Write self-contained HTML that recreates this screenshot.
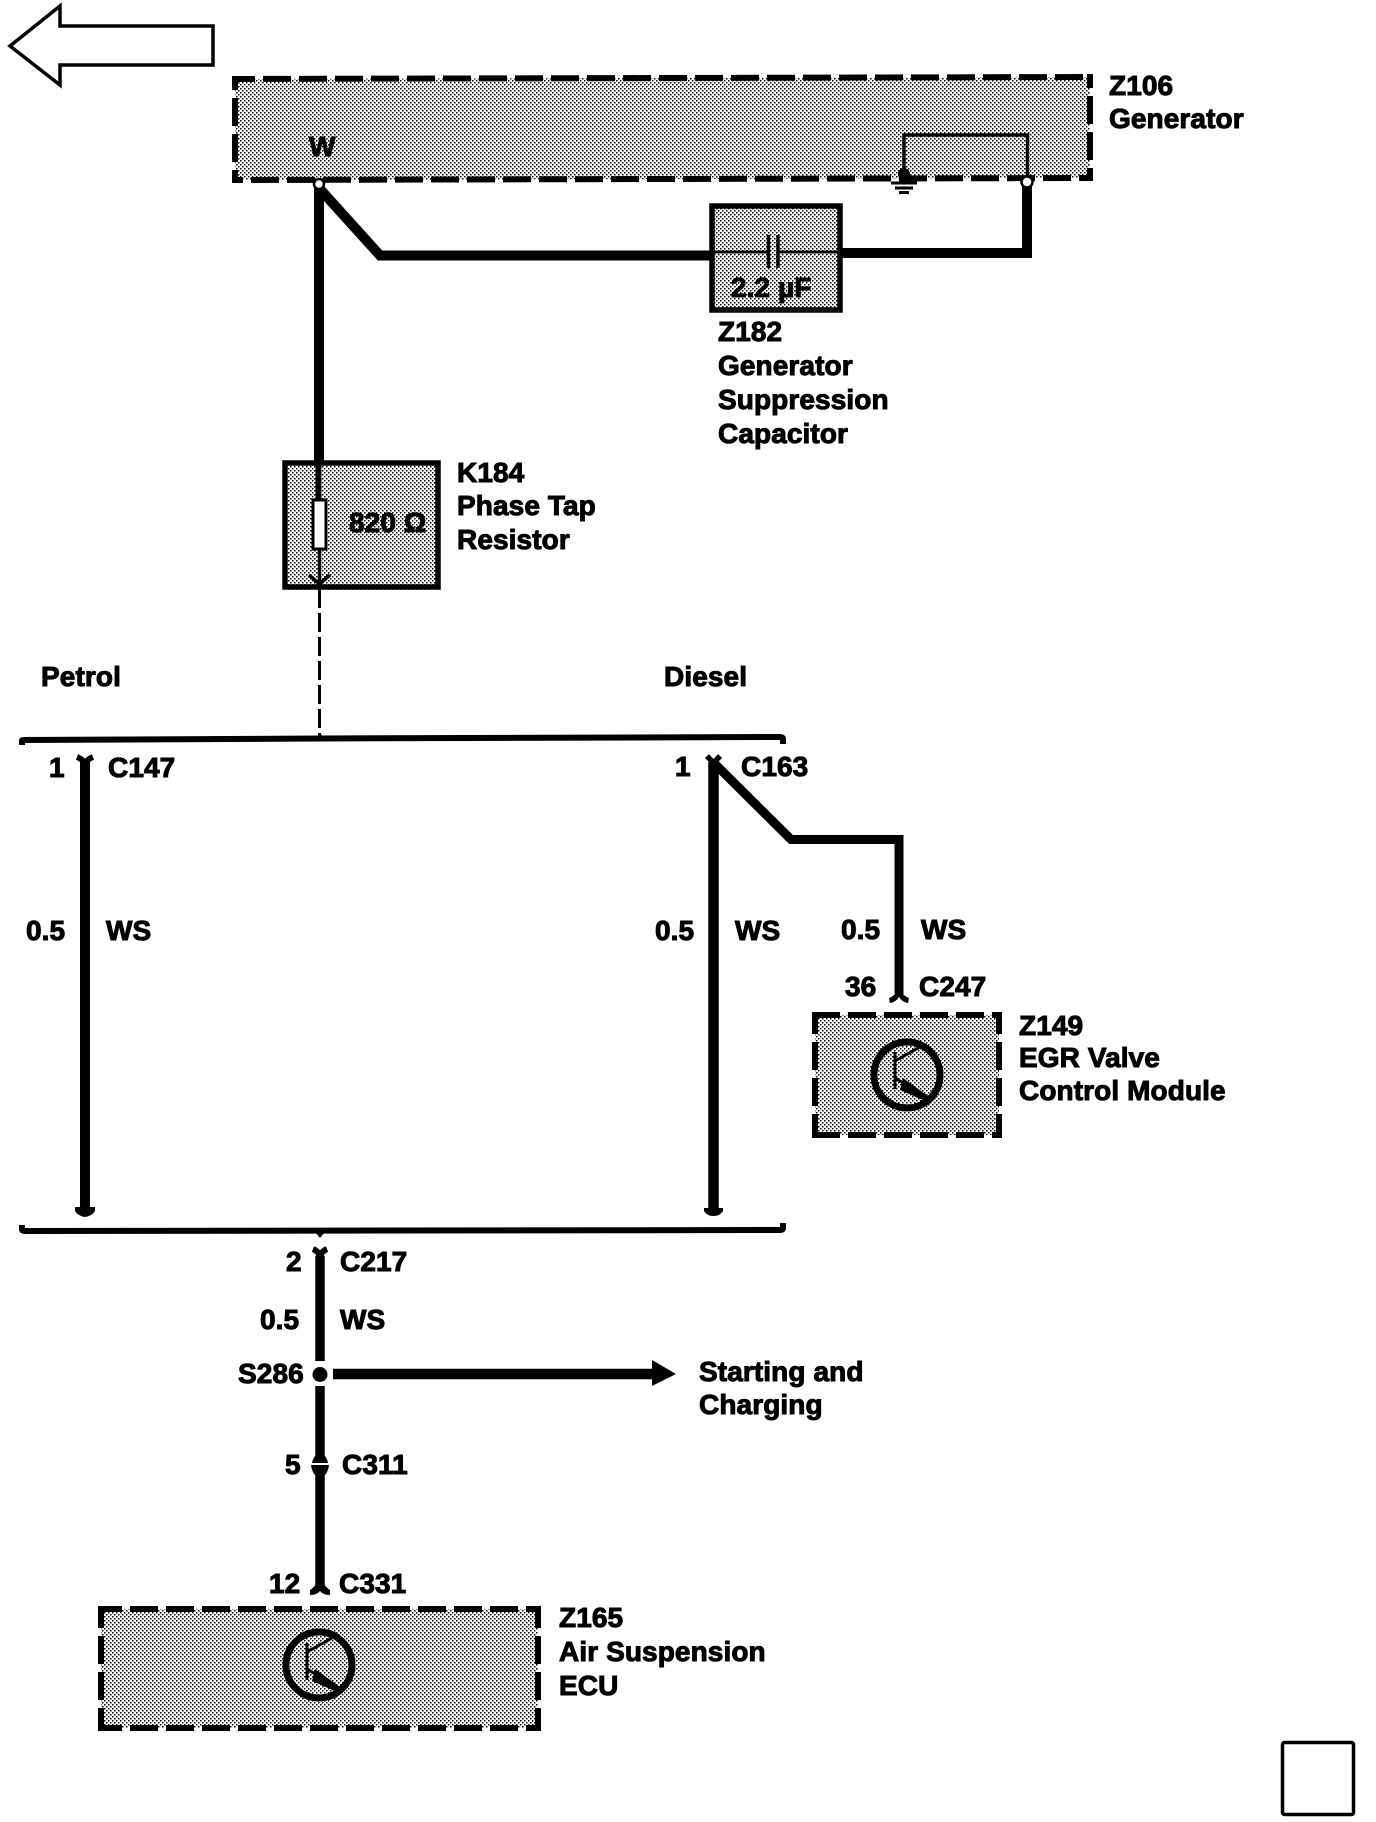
<!DOCTYPE html>
<html lang="en">
<head>
<meta charset="utf-8">
<title>Generator circuit diagram</title>
<style>
html,body{margin:0;padding:0;background:#fff;}
svg{display:block;}
text{font-family:"Liberation Sans",Arial,sans-serif;font-weight:700;font-size:28px;letter-spacing:.1px;fill:#000;stroke:#000;stroke-width:1px;}
.w{fill:none;stroke:#000;stroke-linejoin:miter;stroke-linecap:butt;}
.f{fill:#000;stroke:none;}
.d{fill:none;stroke:#000;stroke-width:6;stroke-dasharray:28 8;}
</style>
</head>
<body>
<svg xmlns="http://www.w3.org/2000/svg" width="1376" height="1822" viewBox="0 0 1376 1822">
<defs>
<pattern id="dots" width="4" height="4" patternUnits="userSpaceOnUse">
<rect x="0" y="0" width="1.5" height="1.5" fill="#000"/>
<rect x="2" y="2" width="1.5" height="1.5" fill="#000"/>
</pattern>
</defs>
<rect width="1376" height="1822" fill="#fff"/>

<!-- back arrow -->
<path d="M10 46 L60 6 V26 H213 V65 H60 V85 Z" fill="#fff" stroke="#000" stroke-width="3.500"/>

<!-- Z106 -->
<path d="M235 79 L1090 77 V178 L235 180 Z" fill="url(#dots)"/>
<path class="d" d="M235 79 L1090 77" stroke-dashoffset="8"/>
<path class="d" d="M235 180 L1090 178" stroke-dashoffset="20"/>
<path class="d" d="M235 76 V183" stroke-dashoffset="14"/>
<path class="d" d="M1090 74 V181" stroke-dashoffset="14"/>
<text x="1109" y="95">Z106</text>
<text x="1109" y="128">Generator</text>
<text x="309" y="156">W</text>

<!-- internal ground loop -->
<path class="w" stroke-width="3.500" d="M904 176 V135 H1027.500 V178"/>
<circle cx="904" cy="174" r="6" fill="#000"/>
<path class="w" stroke-width="3" d="M891 183H917M895 188H913M899 192.500H909"/>

<!-- generator wires -->
<path class="w" stroke-width="10" d="M319 186 V463"/>
<path class="w" stroke-width="10" d="M319 188 L380 255.500 H712"/>
<path class="w" stroke-width="10" d="M840 253 H1027 V184"/>
<circle cx="319" cy="184" r="5" fill="#fff" stroke="#000" stroke-width="2.500"/>
<circle cx="1027" cy="182" r="5.500" fill="#fff" stroke="#000" stroke-width="2.500"/>

<!-- Z182 -->
<rect x="712" y="206" width="128" height="104" fill="#fff"/>
<rect x="712" y="206" width="128" height="104" fill="url(#dots)" stroke="#000" stroke-width="5.500"/>
<path class="w" stroke-width="3" d="M712 252 H767 M779 252 H840"/>
<path class="w" stroke-width="3.500" d="M768.500 235 V268 M778 235 V268"/>
<text x="731" y="297">2.2 µF</text>
<text x="718" y="341">Z182</text>
<text x="718" y="375">Generator</text>
<text x="718" y="409">Suppression</text>
<text x="718" y="443">Capacitor</text>

<!-- K184 -->
<rect x="285" y="463" width="153" height="124" fill="url(#dots)" stroke="#000" stroke-width="5.500"/>
<path class="w" stroke-width="6" d="M318.500 462 V500"/>
<rect x="313" y="500" width="13" height="49" fill="#fff" stroke="#000" stroke-width="3"/>
<path class="w" stroke-width="3.500" d="M319.500 549 V587"/>
<path class="w" stroke-width="3.500" d="M309 575 L319.500 584 L330 575"/>
<text x="349" y="532">820 Ω</text>
<text x="457" y="482">K184</text>
<text x="457" y="515">Phase Tap</text>
<text x="457" y="549">Resistor</text>

<!-- dashed link -->
<path class="w" stroke-width="3" stroke-dasharray="19 5" d="M319.500 589 V738"/>

<!-- variant labels -->
<text x="41" y="686">Petrol</text>
<text x="664" y="686">Diesel</text>

<!-- upper bus -->
<path class="w" stroke-width="6" d="M22 745 V740.500 Q22 740 24 740 L320 738.500 L780 737 Q783 737 783 739 V744"/>
<path class="f" d="M316 738 L320 733 L324 738 Z"/>

<!-- lower bus -->
<path class="w" stroke-width="6" d="M22 1225 V1229 Q22 1231 25 1231 L780 1230 Q783 1230 783 1228 V1223"/>
<path class="f" d="M315 1232 H325 L320 1238 Z"/>

<!-- Petrol branch -->
<path class="w" stroke-width="10" d="M85 762 V1211"/>
<path class="w" stroke-width="6" stroke-linecap="round" d="M77 757 Q85 760 85 767 Q85 760 93 757"/>
<path class="f" d="M75 1207 H95 V1211 Q92 1216 85 1217 Q78 1216 75 1211 Z"/>
<text x="49" y="777">1</text>
<text x="108" y="777">C147</text>
<text x="26" y="940">0.5</text>
<text x="106" y="940">WS</text>

<!-- Diesel branch -->
<path class="w" stroke-width="10.500" d="M713.500 762 V1211"/>
<path class="w" stroke-width="5.500" stroke-linecap="round" d="M707 756 L713.500 763 L720 756"/>
<path class="f" d="M704 1208 H723 V1211 Q720 1216 713.500 1216 Q707 1216 704 1211 Z"/>
<path class="w" stroke-width="9" d="M713 762 L791 839.500 H899 V994"/>
<path class="f" d="M899 986 Q901 995 909 998 L908 1003 Q902 1002 899 997 Q896 1002 890 1003 L889 998 Q897 995 899 986 Z"/>
<text x="675" y="776">1</text>
<text x="741" y="776">C163</text>
<text x="655" y="940">0.5</text>
<text x="735" y="940">WS</text>
<text x="841" y="939">0.5</text>
<text x="921" y="939">WS</text>
<text x="845" y="996">36</text>
<text x="919" y="996">C247</text>

<!-- Z149 -->
<rect x="815" y="1015" width="184" height="120" fill="url(#dots)"/>
<path class="d" d="M812 1015 H1002" stroke-dashoffset="0"/>
<path class="d" d="M812 1135 H1002" stroke-dashoffset="0"/>
<path class="d" d="M815 1012 V1138" stroke-dashoffset="6"/>
<path class="d" d="M999 1012 V1138" stroke-dashoffset="6"/>
<circle cx="907" cy="1075" r="33" fill="none" stroke="#000" stroke-width="7"/>
<path class="w" stroke-width="3" d="M895 1052 V1089"/>
<path class="w" stroke-width="3" d="M895 1061 L920 1047"/>
<path class="w" stroke-width="3" d="M895 1078 L905 1084"/>
<path class="f" d="M903 1078 L928 1096 L925 1101 L900 1090 Z"/>
<text x="1019" y="1035">Z149</text>
<text x="1019" y="1067">EGR Valve</text>
<text x="1019" y="1100">Control Module</text>

<!-- lower trunk -->
<path class="w" stroke-width="6" stroke-linecap="round" d="M313 1249 Q320 1252 320 1259 Q320 1252 327 1249"/>
<path class="w" stroke-width="9.500" d="M320 1256 V1361"/>
<circle cx="320" cy="1374.500" r="7.500" fill="#000"/>
<path class="w" stroke-width="9.500" d="M320 1386 V1456"/>
<path class="f" d="M320 1452 Q327 1456 328 1463 H312 Q313 1456 320 1452 Z"/>
<path class="f" d="M311 1465 H329 Q328 1472 325 1475 H315 Q312 1472 311 1465 Z"/>
<path class="w" stroke-width="9.500" d="M320 1470 V1588"/>
<path class="f" d="M320 1574 Q323 1586 330 1590 V1595 Q323 1595 320 1591 Q317 1595 310 1595 V1590 Q317 1586 320 1574 Z"/>

<!-- branch arrow -->
<path class="w" stroke-width="10.500" d="M333 1374 H654"/>
<path class="f" d="M652 1360 L676 1374 L652 1386 Z"/>
<text x="286" y="1271">2</text>
<text x="340" y="1271">C217</text>
<text x="260" y="1329">0.5</text>
<text x="340" y="1329">WS</text>
<text x="238" y="1383">S286</text>
<text x="699" y="1381">Starting and</text>
<text x="699" y="1414">Charging</text>
<text x="285" y="1474">5</text>
<text x="342" y="1474">C311</text>
<text x="269" y="1593">12</text>
<text x="339" y="1593">C331</text>

<!-- Z165 -->
<rect x="101" y="1609" width="437" height="119" fill="url(#dots)"/>
<path class="d" d="M98 1609 H541" stroke-dashoffset="4"/>
<path class="d" d="M98 1728 H541" stroke-dashoffset="4"/>
<path class="d" d="M101 1606 V1731" stroke-dashoffset="6"/>
<path class="d" d="M538 1606 V1731" stroke-dashoffset="6"/>
<circle cx="319" cy="1665" r="33" fill="none" stroke="#000" stroke-width="7"/>
<path class="w" stroke-width="3" d="M307 1643 V1680"/>
<path class="w" stroke-width="3" d="M307 1652 L332 1638"/>
<path class="w" stroke-width="3" d="M307 1669 L317 1675"/>
<path class="f" d="M315 1669 L340 1687 L337 1692 L312 1681 Z"/>
<text x="559" y="1627">Z165</text>
<text x="559" y="1661">Air Suspension</text>
<text x="559" y="1695">ECU</text>

<!-- corner square -->
<rect x="1282.500" y="1742.500" width="71" height="72" rx="2" fill="#fff" stroke="#000" stroke-width="3.500"/>
</svg>
</body>
</html>
